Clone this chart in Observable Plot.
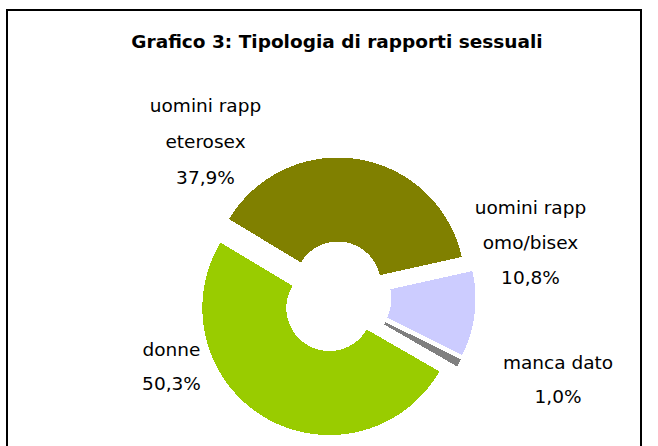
<!DOCTYPE html>
<html><head><meta charset="utf-8">
<script src="https://cdn.jsdelivr.net/npm/d3@7"></script>
<script src="https://cdn.jsdelivr.net/npm/@observablehq/plot@0.6"></script>
<style>
html,body{margin:0;padding:0;background:#fff;}
#wrap{position:relative;width:658px;height:446px;overflow:hidden;}
#border{position:absolute;left:6px;top:9px;width:636px;height:460px;border:2px solid #000;box-sizing:border-box;pointer-events:none;}
</style></head><body>
<div id="wrap"><div id="chart"></div><div id="border"></div></div>
<script>
// ---- data ----
const categories = ["uomini rapp eterosex", "uomini rapp omo/bisex", "manca dato", "donne"];
const labelNames = ["uomini rapp\neterosex", "uomini rapp\nomo/bisex", "manca dato", "donne"];
const values = [37.9, 10.8, 1.0, 50.3];
const valueLabels = ["37,9%", "10,8%", "1,0%", "50,3%"];
const colors = ["#808000", "#CCCCFF", "#808080", "#99CC00"];
const title = "Grafico 3: Tipologia di rapporti sessuali";

// ---- layout ----
const W = 658, H = 446;
const cx = 335.3, cy = 296.6;          // donut centre (px)
const R = 127, r = 43, explode = 12.7;  // radii & explosion (px)
const startDeg = 301;
const labelAnchors = [[205, 136], [530, 237.5], [557.5, 375], [171, 361.5]]; // px
const labelLineHeights = [1.95, 1.9, 1.82, 1.82];
const titleAnchor = [336.5, 42];

const pie = d3.pie().sort(null).value(d => d.value)
  .startAngle(startDeg * Math.PI / 180).endAngle(startDeg * Math.PI / 180 + 2 * Math.PI);
const slices = pie(categories.map((c, i) => ({name: c, value: values[i]})));

const pts = [];
slices.forEach(s => {
  const mid = (s.startAngle + s.endAngle) / 2;
  const ox = explode * Math.sin(mid), oy = explode * Math.cos(mid);
  const n = Math.max(8, Math.ceil((s.endAngle - s.startAngle) * 80));
  const ring = [];
  for (let k = 0; k <= n; k++) {
    const a = s.startAngle + (s.endAngle - s.startAngle) * k / n;
    ring.push({name: s.data.name, x: ox + R * Math.sin(a), y: oy + R * Math.cos(a)});
  }
  for (let k = n; k >= 0; k--) {
    const a = s.startAngle + (s.endAngle - s.startAngle) * k / n;
    ring.push({name: s.data.name, x: ox + r * Math.sin(a), y: oy + r * Math.cos(a)});
  }
  ring.push({...ring[0]});
  pts.push(...ring);
});

const labelMarks = categories.map((c, i) => Plot.text(
  [{x: labelAnchors[i][0] - cx, y: cy - labelAnchors[i][1], text: labelNames[i] + "\n" + valueLabels[i]}],
  {x: "x", y: "y", text: "text", fontSize: 18.5, lineHeight: labelLineHeights[i], lineAnchor: "middle", fill: "#000"}
));
const titles = [{x: titleAnchor[0] - cx, y: cy - titleAnchor[1], text: title}];

const chart = Plot.plot({
  width: W, height: H,
  margin: 0,
  x: {domain: [-cx, W - cx], axis: null},
  y: {domain: [-(H - cy), cy], axis: null},
  color: {domain: categories, range: colors},
  style: {fontFamily: "'DejaVu Sans', sans-serif", background: "#fff"},
  marks: [
    Plot.line(pts, {x: "x", y: "y", z: "name", fill: "name", stroke: "none", curve: "linear", shapeRendering: "crispEdges"}),
    ...labelMarks,
    Plot.text(titles, {x: "x", y: "y", text: "text", fontSize: 18.5, fontWeight: "bold", fill: "#000"})
  ]
});
document.getElementById("chart").appendChild(chart);
</script>
</body></html>
